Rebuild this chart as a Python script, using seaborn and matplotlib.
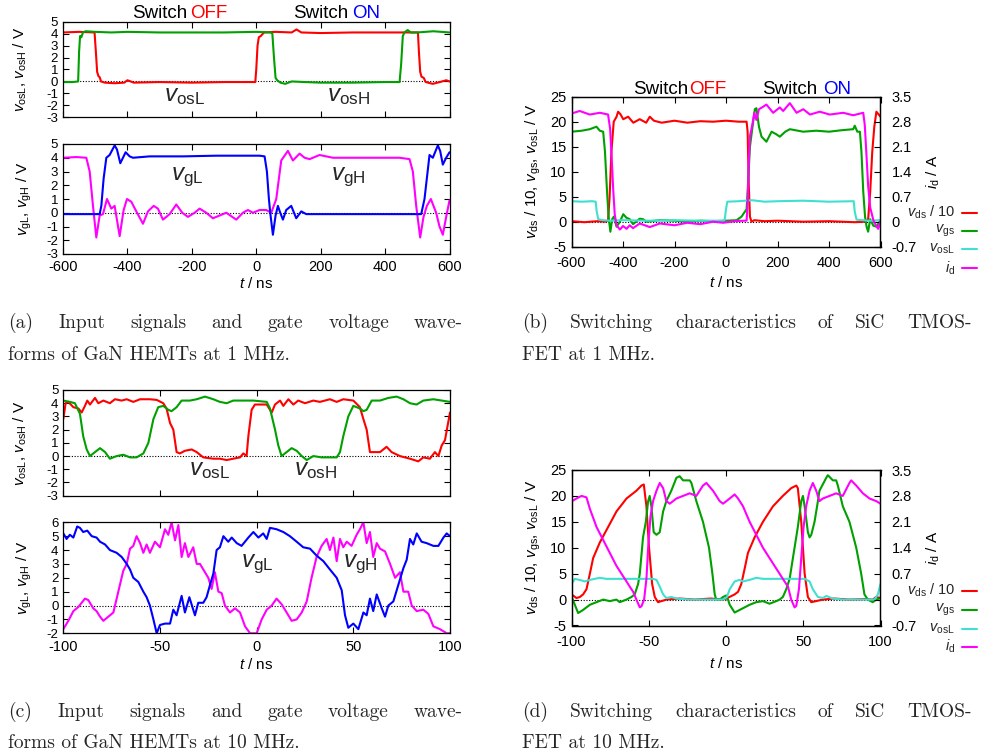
import matplotlib
matplotlib.use('Agg')
import matplotlib.pyplot as plt
import seaborn as sns
from matplotlib.lines import Line2D

sns.set_theme(style='ticks')
plt.rcParams['font.family'] = ['Liberation Sans', 'DejaVu Sans']
plt.rcParams['mathtext.fontset'] = 'custom'
plt.rcParams['mathtext.rm'] = 'Liberation Sans'
plt.rcParams['mathtext.it'] = 'Liberation Sans:italic'
plt.rcParams['axes.unicode_minus'] = False

RED = '#ff0000'
GREEN = '#00a000'
BLUE = '#0000ff'
MAGENTA = '#ff00ff'
CYAN = '#40e0d0'

# ---------------- (a) 1 MHz, input signals ----------------
a_vosL_t = [-600, -550, -502, -498, -494, -490, -486, -482, -470, -440, -410, -400, -380, -300, -200,
            -100, -3, 0, 4, 8, 14, 24, 60, 110, 125, 140, 200, 300, 400, 502, 505, 509, 513, 520,
            526, 548, 570, 590, 600]
a_vosL_v = [4.1, 4.15, 4.1, 2.5, 0.8, 0.45, 0.35, 0.0, -0.1, -0.15, -0.1, 0.1, -0.1, -0.05, -0.1,
            -0.05, -0.05, 1.0, 3.0, 3.7, 3.8, 4.1, 4.15, 4.1, 4.35, 4.1, 4.05, 4.1, 4.1, 4.1, 2.5,
            0.8, 0.4, 0.3, -0.05, -0.2, -0.05, 0.1, 0.0]

a_vosH_t = [-600, -570, -553, -550, -547, -543, -538, -530, -500, -450, -400, -300, -200, -100, 0,
            45, 50, 55, 60, 65, 75, 90, 110, 150, 200, 300, 400, 445, 450, 455, 460, 470, 480,
            500, 550, 600]
a_vosH_v = [-0.05, -0.05, 0.0, 2.5, 3.8, 3.7, 4.1, 4.2, 4.15, 4.1, 4.15, 4.1, 4.1, 4.1, 4.15,
            4.1, 4.0, 2.0, 0.3, 0.1, -0.1, -0.2, 0.0, -0.05, -0.1, -0.1, -0.05, -0.05, 1.5, 3.8,
            4.1, 4.3, 4.1, 4.1, 4.2, 4.1]

a_vgH_t = [-600, -558.6, -527.6, -517.2, -506.9, -496.6, -486.2, -475.9, -463.4, -450, -439.7,
           -424.1, -411.7, -401.4, -387.9, -372.4, -351.7, -336.2, -318.6, -305.2, -289.7, -268.9,
           -248.3, -229.7, -212.1, -191.4, -175.9, -155.2, -134.5, -113.8, -93.1, -62.1, -41.4,
           -25.9, -10.3, 10.3, 31, 46.6, 62.1, 77.6, 98.3, 113.8, 134.5, 150, 165.5, 196.6,
           237.9, 341.4, 444.8, 475.9, 486.2, 496.6, 509, 519.3, 529.7, 542.1, 550.3, 558.6,
           569, 579.3, 589.7, 600]
a_vgH_v = [4.0, 4.05, 4.0, 3.0, 0.5, -1.8, -0.2, -0.1, 1.0, 0.3, 0.5, -1.7, 0.2, 1.0, 0.8, 0.1,
           -0.8, 0.1, 0.5, 0.3, -0.5, -0.1, 0.6, 0.0, -0.3, 0.0, 0.3, 0.0, -0.4, -0.2, 0.0, -0.5,
           0.0, 0.2, 0.0, 0.2, 0.2, 0.0, 1.0, 3.8, 4.5, 3.8, 4.3, 4.0, 3.9, 4.2, 4.0, 4.0, 4.0,
           3.9, 3.0, 0.5, -1.8, -0.3, 0.5, 1.0, 0.5, 0.0, -1.0, -1.6, -0.3, 0.9]

a_vgL_t = [-600, -537.9, -486.2, -481, -473.8, -465.5, -455.2, -439.7, -432.4, -422.1, -405.5,
           -393.1, -382.8, -331, -227.6, -124.1, 10.3, 25.9, 33.1, 39.3, 43.4, 51.7, 60, 67.2,
           74.5, 82.8, 93.1, 108.6, 124.1, 139.7, 155.2, 237.9, 341.4, 444.8, 512.1, 522.4,
           537.9, 548.3, 563.8, 571, 579.3, 589.7, 600]
a_vgL_v = [-0.1, -0.1, -0.1, 0.5, 2.5, 4.0, 4.2, 4.9, 4.6, 3.6, 4.4, 4.1, 4.0, 4.1, 4.1, 4.15,
           4.15, 4.1, 3.0, 1.0, 0.0, -1.6, -0.2, 0.5, 0.0, -0.5, 0.2, 0.5, -0.4, 0.1, -0.1, -0.1,
           -0.1, -0.1, -0.1, 1.0, 4.2, 4.0, 4.9, 4.5, 3.5, 4.0, 4.4]

# ---------------- (b) 1 MHz, SiC switching ----------------
b_vds_t = [-600, -550, -500, -470, -458, -452, -445, -436, -425, -419, -410, -399, -380, -360,
           -335, -310, -296, -280, -250, -200, -150, -100, -50, 0, 50, 80, 84, 88, 93, 99, 110,
           150, 200, 300, 400, 500, 540, 552, 560, 568, 576, 584, 592, 600]
b_vds_v = [0.1, -0.1, 0.1, 0.0, 0.2, 5, 14, 20, 21, 22, 21.5, 20.5, 21, 19.8, 20.5, 19.8, 21,
           20.2, 19.8, 20.2, 19.8, 20.1, 20, 20.2, 20, 20, 18, 8, 1, 0, 0.3, 0.1, 0.2, 0.0, 0.1,
           -0.1, 0.0, 0.5, 6, 14, 19, 22, 21.5, 21]

b_vgs_t = [-600, -560, -529, -503, -490, -477, -470, -462, -456, -449, -442, -436, -425, -412,
           -399, -387, -374, -361, -335, -322, -309, -257, -200, -150, -100, -50, 0, 41, 60, 80,
           86, 93, 103, 112, 118, 128, 138, 157, 177, 195, 209, 230, 248, 300, 350, 400, 450,
           494, 500, 510, 520, 526, 533, 540, 546, 552, 560, 572, 584, 600]
b_vgs_v = [18, 18.2, 18.5, 19, 18.2, 18, 14, 6, 1, -2, 0.5, 1, -1, 0, 1.5, 0.8, 0.5, -0.5, 0.6,
           0.5, 0.0, 0.3, 0.2, 0.0, 0.2, 0.1, 0.2, 0.3, 1, 2.5, 8, 15, 19, 22.5, 22.7, 19, 17, 16,
           18, 17.5, 17, 18, 18.5, 18, 18.2, 18, 18.3, 18.5, 19.2, 18, 18, 14, 6, 1, -1, -2, 0.5,
           -0.8, -1, 0.3]

b_vosL_t = [-600, -560, -520, -506, -502, -496, -480, -450, -400, -300, -200, -100, -11, -5, 0,
            5, 50, 100, 150, 200, 300, 400, 496, 500, 507, 530, 560, 600]
b_vosL_v = [4.1, 4.0, 4.1, 4.0, 2.0, 0.5, 0.3, 0.2, 0.3, 0.2, 0.3, 0.2, 0.2, 0.4, 2.5, 4.0, 4.1,
            4.3, 4.0, 4.1, 4.2, 4.0, 4.1, 2.0, 0.4, 0.3, 0.2, 0.3]

b_id_t = [-600, -568, -529, -490, -470, -458, -450, -444, -438, -432, -425, -412, -400, -386,
          -374, -361, -335, -296, -257, -200, -150, -100, -50, -11, 40, 80, 84, 88, 93, 99, 103,
          110, 118, 128, 140, 157, 183, 209, 222, 248, 274, 300, 326, 364, 403, 455, 494, 533,
          539, 546, 552, 560, 572, 578, 591, 600]
b_id_a = [3.03, 3.1, 3.0, 3.05, 3.02, 3.0, 2.6, 1.8, 0.9, 0.2, -0.1, -0.22, -0.12, -0.2, -0.1,
          -0.18, -0.05, -0.15, -0.05, -0.1, -0.03, -0.07, 0.0, -0.03, 0.02, 0.03, 0.5, 1.6, 2.4,
          2.6, 2.75, 3.05, 2.85, 3.15, 3.2, 3.28, 3.05, 3.2, 3.1, 3.32, 3.05, 3.15, 3.0, 3.08,
          3.0, 3.05, 2.98, 3.05, 2.7, 1.8, 1.0, 0.4, 0.05, -0.05, -0.2, 0.0]

# ---------------- (c) 10 MHz, input signals ----------------
c_vosL_t = [-100, -98.8, -97.4, -94.8, -92.2, -90.5, -88.8, -87.6, -86.2, -83.6, -81.9, -79.3,
            -75.9, -73.3, -69.8, -67.2, -63.8, -60.3, -55.2, -51.7, -48.3, -46.6, -44.8, -43.1,
            -41.4, -39.7, -37.1, -33.6, -31, -27.6, -22.4, -19, -15.5, -12.1, -8.6, -6.9, -5.2,
            -4.3, -2.6, -0.9, 2.6, 5.2, 7.8, 9.5, 12.1, 13.8, 16.4, 19, 21.5, 25, 29.3, 32.7,
            37.9, 41.4, 44.8, 50, 53.4, 55.2, 56.9, 58.6, 63.8, 67.2, 69.8, 74.1, 79.3, 83.6,
            86.2, 89.6, 92.2, 94, 95.7, 97.4, 100]
c_vosL_v = [2.8, 4.0, 4.1, 3.7, 3.6, 3.3, 3.8, 4.2, 3.9, 4.4, 4.0, 4.2, 4.0, 4.3, 4.2, 4.3, 4.1,
            4.3, 4.3, 4.25, 4.0, 3.6, 2.5, 2.0, 0.3, 0.2, 0.4, 0.5, 0.3, -0.1, -0.2, -0.2, -0.3,
            -0.2, -0.1, 0.2, 0.0, 1.5, 3.5, 3.9, 3.9, 3.9, 3.3, 3.9, 4.2, 3.8, 4.3, 3.9, 4.2, 4.0,
            4.2, 4.1, 4.3, 4.1, 4.3, 4.2, 3.7, 2.8, 2.0, 0.3, 0.3, 0.7, 0.3, 0.0, -0.2, -0.4,
            -0.1, -0.2, 0.3, 0.0, 0.8, 1.2, 3.3]

c_vosH_t = [-100, -96.6, -94, -91.4, -89.7, -87.9, -86.2, -83.6, -81, -78.4, -75.9, -72.4, -69,
            -65.5, -62.1, -58.6, -56, -53.4, -50.9, -48.3, -45.7, -44, -41.4, -38.8, -34.5, -31,
            -26.7, -22.4, -19, -15.5, -12.1, -6.9, -1.7, 5.2, 6.9, 9.5, 11.2, 12.9, 15.5, 18.1,
            20.7, 23.3, 25.9, 29.3, 33.6, 37.9, 41.4, 43.1, 44.8, 47.4, 50, 53.4, 55.2, 56.9,
            59.5, 63.8, 68.1, 72.4, 75.9, 79.3, 82.7, 86.2, 91.4, 95.7, 100]
c_vosH_v = [4.2, 4.1, 4.0, 3.2, 1.5, 0.5, 0, 0.3, 0.6, 0.3, -0.2, 0, 0.1, -0.1, -0.1, 0.2, 1.0,
            2.8, 3.7, 3.8, 3.5, 3.4, 3.7, 4.2, 4.2, 4.3, 4.5, 4.3, 4.1, 4.0, 4.2, 4.2, 4.2, 4.1,
            3.6, 2.0, 0.8, 0, 0.3, 0.6, 0.4, 0, -0.3, 0, -0.1, -0.1, -0.1, 0.3, 1.5, 3.0, 3.8,
            3.6, 3.4, 3.5, 4.2, 4.2, 4.4, 4.5, 4.3, 4.0, 3.9, 4.2, 4.3, 4.2, 4.1]

c_vgL_t = [-100, -98.3, -96.6, -94.8, -92.8, -91.4, -89.7, -87.6, -85.3, -82.8, -81, -78.4,
           -75.9, -72.4, -69.8, -67.2, -65.5, -63.8, -61.2, -58.6, -56.9, -55.2, -53.4, -51.7,
           -50, -47.4, -44.8, -43.1, -41.4, -38.8, -37.1, -34.8, -32.8, -31.9, -30.2, -27.6,
           -25.9, -24.1, -22.4, -20.7, -19, -17.2, -14.7, -12.9, -10.3, -7.8, -4.3, -1.7, 0.9,
           3.4, 5.2, 6.9, 10.3, 13.8, 17.2, 20.7, 24.1, 27.6, 31, 34.5, 37.9, 41.4, 44, 45.7,
           47.4, 50, 52.6, 55.2, 56.9, 58.6, 60.3, 62.1, 64.7, 66.4, 68.1, 70.7, 73.3, 75.9,
           77.6, 79.3, 81, 82.8, 85.3, 87.9, 91.4, 94, 96.6, 98.3, 100]
c_vgL_v = [5.2, 4.8, 5.1, 4.9, 5.7, 5.6, 5.3, 5.4, 5.0, 4.9, 4.6, 4.4, 4.0, 3.8, 3.5, 3.0, 2.6,
           2.0, 1.7, 1.0, 0.6, 0, -1.0, -2.0, -1.4, -1.3, -1.3, -0.3, -0.7, 0.7, -0.5, 0.6, -0.3,
           -0.7, 0.2, 0.2, 0.6, 1.5, 2.3, 4.0, 4.2, 5.0, 4.6, 4.9, 4.5, 4.3, 4.9, 5.3, 4.9, 5.2,
           4.8, 5.6, 5.5, 5.3, 5.0, 4.6, 4.2, 4.1, 3.6, 3.2, 2.6, 2.0, 1.1, -0.7, -1.6, -1.3,
           -1.7, -0.5, -0.7, 0.5, -0.4, 0.8, -0.2, -0.8, 0.0, 0.3, 1.5, 2.7, 3.3, 4.8, 4.4, 5.2,
           4.6, 4.5, 4.3, 4.3, 4.9, 5.2, 5.0]

c_vgH_t = [-100, -97.4, -94.8, -92.2, -90.5, -88.8, -87.1, -84.5, -82.8, -81, -79.3, -76.7,
           -74.1, -72.4, -70.7, -69, -67.2, -65.5, -63.8, -62.1, -60.3, -58.6, -56.9, -55.2,
           -52.6, -50, -47.4, -45.7, -44, -42.2, -40.5, -38.8, -37.1, -35.3, -32.8, -31, -29.3,
           -27.6, -25, -23.3, -21.6, -19.8, -18.1, -16.4, -13.8, -11.2, -8.6, -6, -3.4, 0, 2.6,
           5.2, 7.8, 10.3, 12.9, 15.5, 18.1, 20.7, 23.3, 25.9, 28.4, 31, 33.6, 36.2, 37.9, 39.7,
           41.4, 43.1, 44.8, 46.6, 49.1, 51.7, 53.4, 55.2, 56.9, 58.6, 60.3, 62.1, 63.8, 66.4,
           69, 71.6, 74.1, 75.9, 78.4, 80.2, 82.8, 86.2, 88.8, 91.4, 94.8, 98.3, 100]
c_vgH_v = [-1.7, -1.1, -0.4, -0.1, 0.2, 0.5, 0.4, -0.2, -0.4, -0.8, -1.1, -0.8, -0.5, 0.5, 1.5,
           2.5, 3.0, 4.1, 4.3, 5.0, 4.5, 3.8, 4.4, 3.8, 4.6, 4.2, 5.5, 5.1, 6.0, 4.7, 5.8, 3.5,
           4.5, 3.5, 4.2, 3.0, 3.0, 2.6, 2.0, 1.2, 2.4, 1.0, 0.9, 0.0, -0.5, -0.2, -0.5, -1.5,
           -2.0, -2.0, -1.0, -0.3, 0, 0.5, 0.1, -0.5, -1.1, -1.0, -0.5, 0.3, 2.0, 3.5, 4.3, 4.8,
           4.0, 4.9, 3.2, 4.8, 4.2, 4.6, 4.3, 5.1, 5.5, 6.0, 4.5, 5.3, 3.5, 4.5, 4.1, 3.9, 3.0,
           2.0, 2.4, 1.0, 1.0, 0.0, -0.4, -0.3, -0.6, -1.5, -1.7, -2.0, -2.0]

# ---------------- (d) 10 MHz, SiC switching ----------------
d_vds_t = [-100, -96.8, -94.6, -92.5, -90.3, -88.1, -86, -81.7, -76.3, -70.9, -64.4, -58, -54.7,
           -53.2, -51.5, -49.8, -47.8, -46.1, -44, -38.6, -30, -20, -10, -1.9, 0.2, 5.6, 7.8,
           9.9, 12.1, 14.2, 18.5, 23.9, 30.4, 36.8, 42.2, 45.5, 46.5, 48.7, 50.9, 53, 55.2,
           62.7, 70, 80, 90, 95, 97.2, 100]
d_vds_v = [1.0, 0.3, 0.5, 1.0, 2.0, 5.0, 8.0, 11, 14, 17, 19.5, 21, 22, 22.2, 18, 10, 3, 0.5,
           -0.5, 0, 0.2, 0, 0.2, 0, 0.2, 1.0, 1.5, 3, 6, 9, 12, 15, 18, 20, 21.5, 22, 21.5, 15,
           5, 0.5, -0.5, 0, 0.2, 0, 0.1, 0, 0.5, 0.3]

d_vgs_t = [-100, -95.7, -92.5, -88.1, -83.8, -79.5, -75.2, -70.9, -68.8, -64.4, -61.2, -59.1,
           -56.9, -55.8, -53.7, -51.9, -50.4, -49.4, -48.3, -46.8, -45, -42.9, -40.7, -38.6,
           -35.4, -32.1, -30, -27.8, -23.5, -22.4, -19.2, -14.9, -11, -8.8, -7.3, -6.3, -4.1,
           -1.9, 0.2, 1.3, 2.4, 5.6, 8.8, 15.3, 19.6, 23.9, 28.2, 32.5, 34.7, 36.8, 39, 41.2,
           43.3, 46.5, 48.7, 49.8, 50.9, 53, 54.1, 55.2, 57.3, 59.5, 60.5, 64.9, 65.9, 69.2,
           71.3, 72.4, 75.6, 79.9, 84.3, 87.5, 89.6, 91.8, 95, 97.2, 100]
d_vgs_v = [0.6, -2.6, -2.0, -1.0, -0.5, 0.0, -0.3, 0.0, -0.5, 0.0, 0.5, 1.0, 3.0, 5.0, 12, 15,
           19, 20, 18, 13, 12.5, 13, 17, 19, 21, 23.5, 23.8, 23, 23, 22.5, 19, 15, 10, 5, 1, 0,
           0, 0.5, 0.8, 0, -1, -2.5, -2, -1, -0.5, -0.3, -0.8, -0.3, 0, 0.5, 2, 4, 8, 14, 19,
           20, 18, 13, 12, 12.5, 15, 19, 21, 23.5, 24, 23, 23, 22, 18, 15, 10, 5, 1, 0, -0.5, 0,
           0.3]

d_vosL_t = [-100, -97.8, -93.5, -91.4, -88.1, -81.7, -77.4, -60, -47.2, -45, -42.9, -40.7,
            -38.6, -35.4, -32.1, -23.5, -10, -1.9, 0.6, 2.4, 5.6, 8.8, 11, 15.3, 19.6, 23.9, 40,
            50.9, 54.1, 56.2, 59.5, 62.7, 64.9, 69.2, 75.6, 90, 96.1, 98.3, 100]
d_vosL_v = [3.0, 4.0, 3.7, 3.5, 3.8, 4.2, 4.0, 4.0, 4.0, 3.8, 2.5, 1.0, 0.3, 0.5, 0.2, 0.0, 0.0,
            0.0, 0.5, 2.0, 3.5, 3.8, 3.5, 3.8, 4.2, 4.0, 4.0, 4.0, 3.5, 2.0, 0.5, 0.3, 0.7, 0.2,
            0.0, 0.0, 0.0, 1.0, 3.0]

d_id_t = [-100, -96.8, -93.5, -90.3, -88.1, -83.8, -79.5, -75.2, -70.9, -66.6, -64.4, -62.3,
          -60.1, -58, -55.8, -54.7, -53, -51.5, -50.4, -48.9, -47.2, -45, -42.9, -40.7, -38.6,
          -36.4, -32.1, -27.8, -23.5, -19.2, -14.9, -12.7, -8.4, -4.1, -1.9, 2.4, 5.6, 7.8, 11,
          15.3, 19.6, 23.9, 28.2, 32.5, 36.8, 40.1, 42.2, 44.4, 45.5, 47.2, 48.7, 50.2, 51.9,
          54.1, 56.2, 58.4, 60.5, 62.7, 67, 71.3, 75.6, 79.9, 81, 84.3, 88.6, 92.9, 97.2, 100]
d_id_a = [2.65, 2.73, 2.80, 2.76, 2.45, 1.96, 1.61, 1.26, 0.91, 0.63, 0.49, 0.35, 0.21, 0.0,
          -0.21, -0.18, 0.0, 0.56, 1.4, 2.24, 2.66, 2.94, 3.15, 3.01, 2.66, 2.59, 2.73, 2.80,
          2.87, 2.80, 3.08, 3.15, 2.94, 2.66, 2.59, 2.73, 2.84, 2.73, 2.52, 2.10, 1.75, 1.40,
          1.12, 0.84, 0.56, 0.35, 0.0, -0.21, -0.17, 0.28, 1.12, 1.96, 2.52, 2.94, 3.15, 2.94,
          2.66, 2.73, 2.80, 2.87, 2.80, 3.15, 3.22, 3.08, 2.87, 2.73, 2.66, 2.59]

# tick values
ticks_1mhz = [-600, -400, -200, 0, 200, 400, 600]
ticks_10mhz = [-100, -50, 0, 50, 100]
id_ticks = [-0.7, 0, 0.7, 1.4, 2.1, 2.8, 3.5]
id_labels = ['-0.7', '0', '0.7', '1.4', '2.1', '2.8', '3.5']

W, H = 992, 751
TICK_FS = 10.5
YTICK_FS = 9.5
LABEL_FS = 11
fig = plt.figure(figsize=(W / 100, H / 100), dpi=100)


def px_axes(x0, y0, x1, y1):
    return fig.add_axes([x0 / W, 1 - y1 / H, (x1 - x0) / W, (y1 - y0) / H])


def trace(ax, t, v, color):
    sns.lineplot(x=t, y=v, ax=ax, color=color, lw=1.5, sort=False, estimator=None,
                 legend=False)


def style(ax, xlim, xticks, ylim, yticks, xlabels=True, right=True):
    ax.set_xlim(*xlim)
    ax.set_ylim(*ylim)
    ax.set_xticks(xticks)
    ax.set_yticks(yticks)
    ax.axhline(0, color='black', ls=(0, (1, 1.5)), lw=0.8, zorder=0)
    ax.tick_params(direction='in', length=4, width=0.8, color='black',
                   labelcolor='black', top=True, right=right, pad=3.5)
    ax.tick_params(axis='x', pad=4.5, labelsize=TICK_FS)
    ax.tick_params(axis='y', labelsize=YTICK_FS)
    if not xlabels:
        ax.tick_params(axis='x', labelbottom=False)
    for s in ax.spines.values():
        s.set_color('black')
        s.set_linewidth(0.9)
    ax.set_xlabel('')
    ax.set_ylabel('')


def ylabel(ax, text, x):
    ax.set_ylabel(text, fontsize=LABEL_FS, color='black')
    ax.yaxis.set_label_coords(x, 0.5)
    ax.yaxis.label.set_va('center')


def xlabel(ax, y):
    ax.set_xlabel(r'$t$ / ns', fontsize=LABEL_FS, color='black')
    ax.xaxis.set_label_coords(0.5, y)
    ax.xaxis.label.set_va('center')


def right_axis(ax, values_t, values_a):
    ax2 = ax.twinx()
    trace(ax2, values_t, values_a, MAGENTA)
    ax2.set_ylim(-0.7, 3.5)
    ax2.set_yticks(id_ticks, id_labels)
    ax2.tick_params(direction='in', length=4, width=0.8, color='black', labelsize=TICK_FS,
                    labelcolor='black', pad=8)
    ax2.set_ylabel(r'$i_{\rm d}$ / A', fontsize=LABEL_FS, color='black')
    ax2.yaxis.set_label_coords(1.17, 0.5)
    ax2.yaxis.label.set_va('center')
    for s in ax2.spines.values():
        s.set_color('black')
        s.set_linewidth(0.9)


def switch_labels(y, items):
    for x, text, color in items:
        fig.text(x / W, 1 - y / H, text, color=color, fontsize=13.5, ha='center', va='center')


def legend_rows(rows):
    for y, text, color in rows:
        fig.text(955 / W, 1 - y / H, text, fontsize=10.5, ha='right', va='center')
        fig.add_artist(Line2D([962 / W, 977 / W], [1 - y / H, 1 - y / H], color=color,
                              lw=1.5, transform=fig.transFigure))


def name(ax, x, y, text):
    ax.text(x, y, text, fontsize=17.5, ha='center', va='center')


# ---- (a) ----
ax = px_axes(63, 21.7, 449.5, 117.3)
trace(ax, a_vosL_t, a_vosL_v, RED)
trace(ax, a_vosH_t, a_vosH_v, GREEN)
style(ax, (-600, 600), ticks_1mhz, (-3, 5), range(-3, 6), xlabels=False)
ylabel(ax, r'$v_{\rm osL}$, $v_{\rm osH}$ / V', -0.11)
name(ax, -224, -1.25, r'$v_{\rm osL}$')
name(ax, 285, -1.25, r'$v_{\rm osH}$')
switch_labels(14, [(160, 'Switch', 'black'), (209, 'OFF', RED),
                   (321, 'Switch', 'black'), (366, 'ON', BLUE)])

ax = px_axes(63, 144, 449.5, 254)
trace(ax, a_vgH_t, a_vgH_v, MAGENTA)
trace(ax, a_vgL_t, a_vgL_v, BLUE)
style(ax, (-600, 600), ticks_1mhz, (-3, 5), range(-3, 6))
ylabel(ax, r'$v_{\rm gL}$, $v_{\rm gH}$ / V', -0.1)
xlabel(ax, -0.27)
name(ax, -215, 2.6, r'$v_{\rm gL}$')
name(ax, 286, 2.6, r'$v_{\rm gH}$')

# ---- (b) ----
ax = px_axes(571.5, 96.7, 880.5, 246.7)
trace(ax, b_vds_t, b_vds_v, RED)
trace(ax, b_vgs_t, b_vgs_v, GREEN)
trace(ax, b_vosL_t, b_vosL_v, CYAN)
style(ax, (-600, 600), ticks_1mhz, (-5, 25), range(-5, 26, 5), right=False)
ax.tick_params(axis='y', labelsize=TICK_FS)
ax.tick_params(axis='x', pad=7)
ylabel(ax, r'$v_{\rm ds}$ / 10, $v_{\rm gs}$, $v_{\rm osL}$ / V', -0.125)
xlabel(ax, -0.24)
right_axis(ax, b_id_t, b_id_a)
switch_labels(90, [(661, 'Switch', 'black'), (708, 'OFF', RED),
                   (790, 'Switch', 'black'), (837, 'ON', BLUE)])
legend_rows([(212.5, r'$v_{\rm ds}$ / 10', RED), (230.7, r'$v_{\rm gs}$', GREEN),
             (249, r'$v_{\rm osL}$', CYAN), (268, r'$i_{\rm d}$', MAGENTA)])

# ---- (c) ----
ax = px_axes(63.3, 390, 450, 495.7)
trace(ax, c_vosL_t, c_vosL_v, RED)
trace(ax, c_vosH_t, c_vosH_v, GREEN)
style(ax, (-100, 100), ticks_10mhz, (-3, 5), range(-3, 6), xlabels=False)
ylabel(ax, r'$v_{\rm osL}$, $v_{\rm osH}$ / V', -0.11)
name(ax, -24.6, -1.06, r'$v_{\rm osL}$')
name(ax, 30.5, -1.06, r'$v_{\rm osH}$')

ax = px_axes(63.3, 522.3, 450, 633.3)
trace(ax, c_vgH_t, c_vgH_v, MAGENTA)
trace(ax, c_vgL_t, c_vgL_v, BLUE)
style(ax, (-100, 100), ticks_10mhz, (-2, 6), range(-2, 7))
ylabel(ax, r'$v_{\rm gL}$, $v_{\rm gH}$ / V', -0.1)
xlabel(ax, -0.28)
name(ax, 0.3, 3.0, r'$v_{\rm gL}$')
name(ax, 53.4, 3.0, r'$v_{\rm gH}$')

# ---- (d) ----
ax = px_axes(571.5, 470, 880.5, 625.5)
trace(ax, d_vds_t, d_vds_v, RED)
trace(ax, d_vgs_t, d_vgs_v, GREEN)
trace(ax, d_vosL_t, d_vosL_v, CYAN)
style(ax, (-100, 100), ticks_10mhz, (-5, 25), range(-5, 26, 5), right=False)
ax.tick_params(axis='y', labelsize=TICK_FS)
ax.tick_params(axis='x', pad=6.5)
ylabel(ax, r'$v_{\rm ds}$ / 10, $v_{\rm gs}$, $v_{\rm osL}$ / V', -0.125)
xlabel(ax, -0.245)
right_axis(ax, d_id_t, d_id_a)
legend_rows([(590.7, r'$v_{\rm ds}$ / 10', RED), (610, r'$v_{\rm gs}$', GREEN),
             (628.7, r'$v_{\rm osL}$', CYAN), (646.7, r'$i_{\rm d}$', MAGENTA)])

# ---- captions (first line justified like the LaTeX source) ----
renderer = fig.canvas.get_renderer()


def caption(x0, x1, y1, y2, line1, line2, size=14):
    words = line1.split(' ')
    texts = [fig.text(0, 1 - y1 / H, w, fontsize=size, family='cmr10', va='baseline')
             for w in words]
    widths = [t.get_window_extent(renderer).width for t in texts]
    gap = (x1 - x0 - sum(widths)) / (len(words) - 1)
    x = x0
    for t, w in zip(texts, widths):
        t.set_x(x / W)
        x += w + gap
    fig.text(x0 / W, 1 - y2 / H, line2, fontsize=size, family='cmr10', va='baseline')


caption(8, 463, 328, 360, '(a) Input signals and gate voltage wave-',
        'forms of GaN HEMTs at 1 MHz.')
caption(522, 972, 328, 360, '(b) Switching characteristics of SiC TMOS-',
        'FET at 1 MHz.')
caption(8, 463, 717, 748, '(c) Input signals and gate voltage wave-',
        'forms of GaN HEMTs at 10 MHz.')
caption(522, 972, 717, 748, '(d) Switching characteristics of SiC TMOS-',
        'FET at 10 MHz.')

fig.savefig('out.png', dpi=100)
